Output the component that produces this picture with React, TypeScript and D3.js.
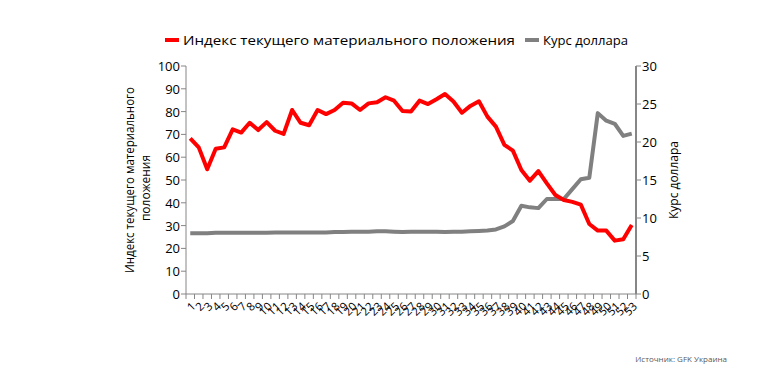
import React from "react";
import * as d3 from "d3";

const categories: string[] = Array.from({ length: 53 }, (_, i) => String(i + 1));

const indexValues: number[] = [
  68.3, 64.3, 54.7, 63.7, 64.3, 72.2, 70.8, 75.1, 71.9, 75.4,
  71.6, 70.2, 80.7, 75.1, 74.0, 80.7, 78.9, 80.7, 83.9, 83.6,
  80.7, 83.6, 84.1, 86.3, 84.8, 80.3, 80.0, 84.8, 83.3, 85.4,
  87.7, 84.4, 79.5, 82.5, 84.5, 77.8, 73.4, 65.4, 62.9, 54.4,
  49.7, 53.9, 48.5, 43.4, 41.2, 40.4, 39.2, 30.7, 27.8, 27.8,
  23.4, 24.0, 30.3,
];

const usdValues: number[] = [
  8.0, 8.0, 8.0, 8.05, 8.05, 8.05, 8.05, 8.05, 8.05, 8.05,
  8.1, 8.1, 8.1, 8.1, 8.1, 8.1, 8.1, 8.15, 8.15, 8.2,
  8.2, 8.2, 8.25, 8.25, 8.2, 8.15, 8.2, 8.2, 8.2, 8.2,
  8.15, 8.2, 8.2, 8.25, 8.3, 8.35, 8.5, 8.9, 9.6, 11.6,
  11.4, 11.3, 12.5, 12.5, 12.5, 13.8, 15.1, 15.3, 23.8, 22.8,
  22.4, 20.8, 21.1,
];

const leftTicks: number[] = [0, 10, 20, 30, 40, 50, 60, 70, 80, 90, 100];
const rightTicks: number[] = [0, 5, 10, 15, 20, 25, 30];

const seriesNames: string[] = ["Индекс текущего материального положения", "Курс доллара"];
const leftTitle: string[] = ["Индекс текущего материального", "положения"];
const rightTitle = "Курс доллара";
const sourceText = "Источник: GFK Украина";

const FONT = "'Open Sans', 'DejaVu Sans', sans-serif";

export default function App() {
  const W = 783;
  const H = 369;
  const x = d3.scaleBand<string>().domain(categories).range([186, 636]);
  const yL = d3.scaleLinear().domain([0, 100]).range([294, 66]);
  const yR = d3.scaleLinear().domain([0, 30]).range([294, 66]);
  const cx = (c: string) => (x(c) as number) + x.bandwidth() / 2;

  const redLine = d3
    .line<number>()
    .x((_, i) => cx(categories[i]))
    .y((d) => yL(d))(indexValues) as string;
  const grayLine = d3
    .line<number>()
    .x((_, i) => cx(categories[i]))
    .y((d) => yR(d))(usdValues) as string;

  const boundaries = d3.range(categories.length + 1).map((i) => 186 + i * x.step());
  const axisColor = "#868686";

  return (
    <svg
      width={W}
      height={H}
      style={{ position: "absolute", left: 0, top: 0, background: "#fff" }}
      fontFamily={FONT}
    >
      {/* legend */}
      <line x1={165} x2={179} y1={40} y2={40} stroke="#ff0000" strokeWidth={4} />
      <text x={183} y={40} fontSize={13.5} dominantBaseline="central" fill="#000" textLength={332} lengthAdjust="spacingAndGlyphs">
        {seriesNames[0]}
      </text>
      <line x1={525} x2={539} y1={40} y2={40} stroke="#808080" strokeWidth={4} />
      <text x={543} y={40} fontSize={13.5} dominantBaseline="central" fill="#000" textLength={85} lengthAdjust="spacingAndGlyphs">
        {seriesNames[1]}
      </text>

      {/* left axis */}
      <line x1={186} x2={186} y1={yL(0)} y2={yL(100)} stroke={axisColor} strokeWidth={1} />
      {leftTicks.map((t) => (
        <g key={"l" + t}>
          <line x1={181} x2={186} y1={yL(t)} y2={yL(t)} stroke={axisColor} />
          <text x={180} y={yL(t)} fontSize={13} textAnchor="end" dominantBaseline="central" fill="#000">
            {t}
          </text>
        </g>
      ))}

      {/* right axis */}
      <line x1={636} x2={636} y1={yR(0)} y2={yR(30)} stroke={axisColor} strokeWidth={2} />
      {rightTicks.map((t) => (
        <g key={"r" + t}>
          <line x1={636} x2={641} y1={yR(t)} y2={yR(t)} stroke={axisColor} />
          <text x={642} y={yR(t)} fontSize={13} textAnchor="start" dominantBaseline="central" fill="#000">
            {t}
          </text>
        </g>
      ))}

      {/* x axis */}
      <line x1={186} x2={636} y1={294} y2={294} stroke={axisColor} />
      {boundaries.map((b, i) => (
        <line key={"t" + i} x1={b} x2={b} y1={294} y2={299} stroke={axisColor} />
      ))}
      {categories.map((c) => (
        <text
          key={"c" + c}
          transform={`translate(${cx(c) + 3},${304}) rotate(-45)`}
          fontSize={11.5}
          textAnchor="end"
          dominantBaseline="central"
          fill="#000"
        >
          {c}
        </text>
      ))}

      {/* axis titles */}
      <text transform="translate(129,180) rotate(-90)" fontSize={12} textAnchor="middle" dominantBaseline="central" fill="#000" textLength={186} lengthAdjust="spacingAndGlyphs">
        {leftTitle[0]}
      </text>
      <text transform="translate(145,188) rotate(-90)" fontSize={12} textAnchor="middle" dominantBaseline="central" fill="#000">
        {leftTitle[1]}
      </text>
      <text transform="translate(673,180) rotate(-90)" fontSize={12} textAnchor="middle" dominantBaseline="central" fill="#000">
        {rightTitle}
      </text>

      {/* lines */}
      <path d={grayLine} fill="none" stroke="#808080" strokeWidth={4} strokeLinejoin="round" />
      <path d={redLine} fill="none" stroke="#ff0000" strokeWidth={4} strokeLinejoin="round" />

      {/* source */}
      <text x={727} y={358} fontSize={8} textAnchor="end" dominantBaseline="central" fill="#595959">
        {sourceText}
      </text>
    </svg>
  );
}
